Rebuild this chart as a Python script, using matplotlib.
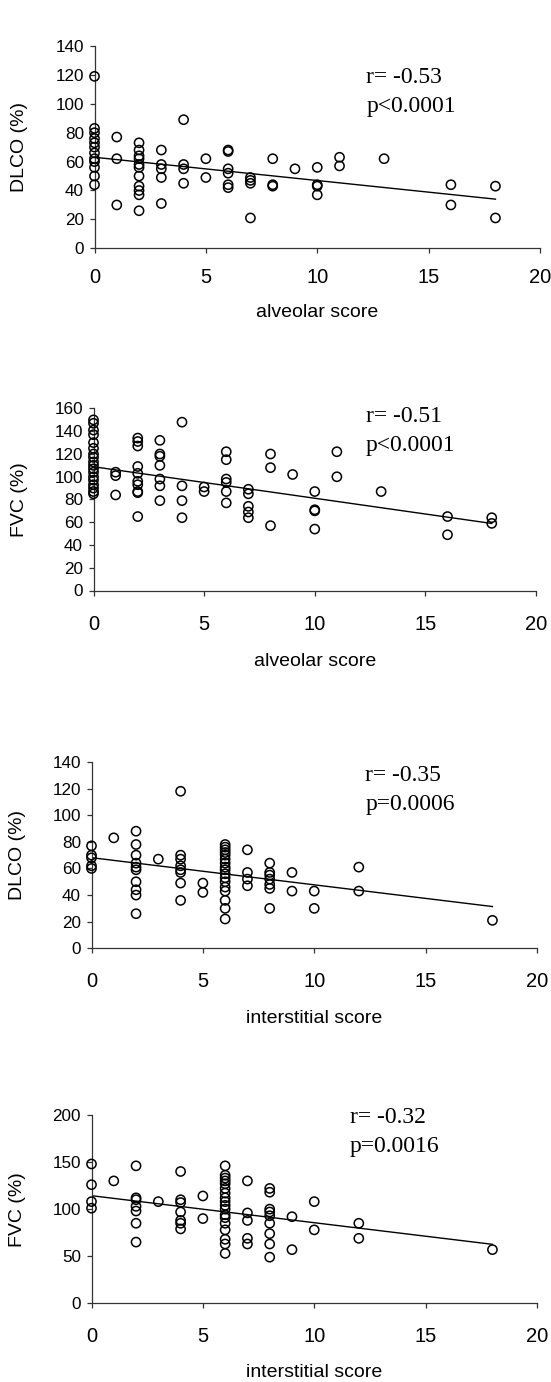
import matplotlib
matplotlib.use("Agg")
import matplotlib.pyplot as plt
import numpy as np

# ---------------- data ----------------
# Panel 1: alveolar score vs DLCO (%)
p1_x = [0]*12 + [1]*3 + [2]*11 + [3]*5 + [4]*4 + [5]*2 + [6]*6 + [7]*4 + [8]*3 + [9] + [10]*4 + [11]*2 + [13] + [16]*2 + [18]*2
p1_y = [119, 83, 80, 76, 73, 70, 66, 62, 60, 56, 50, 44,
        77, 62, 30,
        73, 68, 64, 62, 58, 56, 50, 43, 40, 37, 26,
        68, 58, 55, 49, 31,
        89, 58, 55, 45,
        62, 49,
        68, 67, 55, 52, 44, 42,
        49, 47, 45, 21,
        62, 44, 43,
        55,
        56, 44, 43, 37,
        63, 57,
        62,
        44, 30,
        43, 21]

# Panel 2: alveolar score vs FVC (%)
p2_x = [0]*18 + [1]*3 + [2]*10 + [3]*7 + [4]*4 + [5]*2 + [6]*6 + [7]*5 + [8]*3 + [9] + [10]*4 + [11]*2 + [13] + [16]*2 + [18]*2
p2_y = [150, 147, 141, 137, 130, 125, 120, 117, 113, 110, 107, 104, 100, 97, 93, 90, 87, 85,
        104, 101, 84,
        134, 131, 127, 109, 103, 96, 93, 87, 86, 65,
        132, 120, 118, 110, 98, 92, 79,
        148, 92, 79, 64,
        91, 87,
        122, 115, 98, 95, 87, 77,
        89, 85, 74, 69, 64,
        120, 108, 57,
        102,
        87, 71, 70, 54,
        122, 100,
        87,
        65, 49,
        64, 59]

# Panel 3: interstitial score vs DLCO (%)
p3_x = [0]*5 + [1] + [2]*10 + [3] + [4]*8 + [5]*2 + [6]*17 + [7]*4 + [8]*7 + [9]*2 + [10]*2 + [12]*2 + [18]
p3_y = [77, 70, 68, 62, 60,
        83,
        88, 78, 70, 64, 61, 59, 50, 44, 40, 26,
        67,
        118, 70, 67, 62, 59, 57, 49, 36,
        49, 42,
        78, 76, 74, 72, 70, 67, 64, 61, 59, 56, 53, 50, 46, 43, 36, 30, 22,
        74, 57, 52, 47,
        64, 57, 55, 52, 48, 45, 30,
        57, 43,
        43, 30,
        61, 43,
        21]

# Panel 4: interstitial score vs FVC (%)
p4_x = [0]*4 + [1] + [2]*7 + [3] + [4]*7 + [5]*2 + [6]*18 + [7]*5 + [8]*9 + [9]*2 + [10]*2 + [12]*2 + [18]
p4_y = [148, 126, 108, 101,
        130,
        146, 112, 110, 103, 98, 85, 65,
        108,
        140, 110, 107, 97, 88, 85, 79,
        114, 90,
        146, 136, 133, 130, 127, 122, 117, 112, 108, 104, 100, 94, 91, 85, 78, 68, 63, 53,
        130, 96, 88, 69, 63,
        122, 118, 100, 97, 93, 85, 74, 63, 49,
        92, 57,
        108, 78,
        85, 69,
        57]

# regression lines (intercept, slope)
fit_intercepts = [63.0, 108.8, 68.1, 114.3]
fit_slopes = [-1.61, -2.77, -2.04, -2.87]

ylabels = ["DLCO (%)", "FVC (%)", "DLCO (%)", "FVC (%)"]
xlabels = ["alveolar score", "alveolar score", "interstitial score", "interstitial score"]
r_texts = ["r= -0.53", "r= -0.51", "r= -0.35", "r= -0.32"]
p_texts = ["p<0.0001", "p<0.0001", "p=0.0006", "p=0.0016"]
y_maxes = [140, 160, 140, 200]
y_steps = [20, 20, 20, 50]
x_ticks = [0, 5, 10, 15, 20]

# ---------------- layout ----------------
W, H = 551, 1382
fig = plt.figure(figsize=(W/100, H/100), dpi=100)
sans = "Liberation Sans"
serif = "Liberation Serif"

# axes rectangles in pixels: (left, right, top, bottom)
rects = [(94.5, 540, 46, 248.3),
         (93.5, 536, 408.5, 590.5),
         (91.5, 537, 762, 948.3),
         (91.5, 537, 1115, 1303.3)]
xlabel_base = [316.7, 666, 1023.3, 1376.7]
ylabel_x = [19.4, 19.4, 17.6, 17.6]
xtick_pad = [11.0, 14.0, 13.5, 13.5]
r_y = [114.2, 147.7, 125.8, 191.5]
p_y = [94.1, 122.7, 104.3, 160.9]
text_x = [12.2, 12.3, 12.3, 11.6]

datasets = [(p1_x, p1_y), (p2_x, p2_y), (p3_x, p3_y), (p4_x, p4_y)]

for i, (xs, ys) in enumerate(datasets):
    l, r, t, b = rects[i]
    ax = fig.add_axes([l/W, 1 - b/H, (r - l)/W, (b - t)/H])
    ax.scatter(xs, ys, s=44, facecolors="none", edgecolors="black", linewidths=1.1, zorder=3,
               clip_on=False)
    xs_arr = np.asarray(xs, dtype=float)
    xl = np.array([xs_arr.min(), xs_arr.max()])
    ax.plot(xl, fit_intercepts[i] + fit_slopes[i]*xl, color="black", lw=1.0, zorder=2)
    ax.set_xlim(0, 20)
    ax.set_ylim(0, y_maxes[i])
    ax.set_xticks(x_ticks)
    ax.set_yticks(np.arange(0, y_maxes[i] + 1, y_steps[i]))
    for s in ["top", "right"]:
        ax.spines[s].set_visible(False)
    for s in ["left", "bottom"]:
        ax.spines[s].set_color("#333333")
        ax.spines[s].set_linewidth(0.9)
    ax.tick_params(axis="x", direction="out", length=3.5, width=0.9, color="#333333",
                   pad=xtick_pad[i], labelsize=14.5)
    ax.tick_params(axis="y", direction="out", length=3.5, width=0.9, color="#333333",
                   pad=4, labelsize=12.3)
    for lab in ax.get_xticklabels() + ax.get_yticklabels():
        lab.set_fontfamily(sans)
    ax.text(text_x[i], r_y[i], r_texts[i], family=serif, fontsize=17, ha="left", va="baseline")
    ax.text(text_x[i], p_y[i], p_texts[i], family=serif, fontsize=17, ha="left", va="baseline")
    fig.text((l + r)/2/W, 1 - xlabel_base[i]/H, xlabels[i], family=sans, fontsize=14,
             ha="center", va="baseline")
    fig.text(ylabel_x[i]/W, 1 - (t + b)/2/H, ylabels[i], family=sans, fontsize=14,
             rotation=90, ha="center", va="center")

fig.savefig("out.png", dpi=100, facecolor="white")
